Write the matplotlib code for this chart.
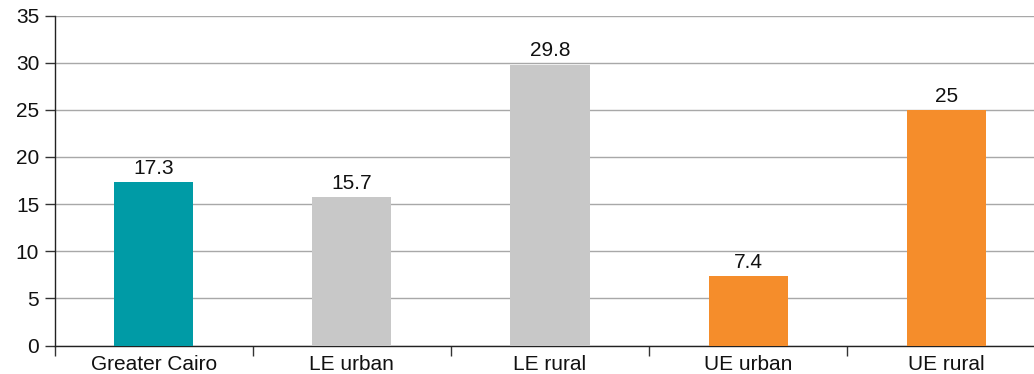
import matplotlib
matplotlib.use("Agg")
import matplotlib.pyplot as plt
import numpy as np

categories = ["Greater Cairo", "LE urban", "LE rural", "UE urban", "UE rural"]
values = [17.3, 15.7, 29.8, 7.4, 25]
colors = ["#009BA6", "#C8C8C8", "#C8C8C8", "#F58D2B", "#F58D2B"]
y_ticks = [0, 5, 10, 15, 20, 25, 30, 35]

plt.rcParams["font.family"] = ["Liberation Sans", "DejaVu Sans"]

W, H = 1034, 374
fig = plt.figure(figsize=(W / 100, H / 100), dpi=100)
left_px, right_px = 54.5, 1045.5
bottom_px, top_px = 345.5, 15.5
ax = fig.add_axes([left_px / W, (H - bottom_px) / H,
                   (right_px - left_px) / W, (bottom_px - top_px) / H])

x = np.arange(len(categories))
ax.bar(x, values, width=0.40, color=colors, zorder=3)
for xi, v in zip(x, values):
    ax.annotate(f"{v:g}", (xi, v), xytext=(0, 3), textcoords="offset points",
                ha="center", va="bottom", fontsize=15, color="#111111")

ax.set_xlim(-0.5, len(categories) - 0.5)
ax.set_ylim(0, 35)
ax.set_yticks(y_ticks)
ax.set_yticklabels([str(t) for t in y_ticks], fontsize=15, color="#111111")
ax.yaxis.grid(True, color="#A8A8A8", linewidth=1.0, zorder=0)
ax.set_axisbelow(True)

# category labels centred, tick marks on category boundaries
ax.set_xticks(x)
ax.set_xticklabels(categories, fontsize=15, color="#111111")
ax.tick_params(axis="x", which="major", length=0, pad=7)
ax.set_xticks(np.arange(len(categories) + 1) - 0.5, minor=True)
ax.tick_params(axis="x", which="minor", length=7, width=1, color="#333333", direction="out")
ax.tick_params(axis="y", length=7, width=1, color="#333333", pad=4)

for s in ["top", "right"]:
    ax.spines[s].set_visible(False)
for s in ["left", "bottom"]:
    ax.spines[s].set_color("#222222")
    ax.spines[s].set_linewidth(1.0)

fig.savefig("out.png", dpi=100)
